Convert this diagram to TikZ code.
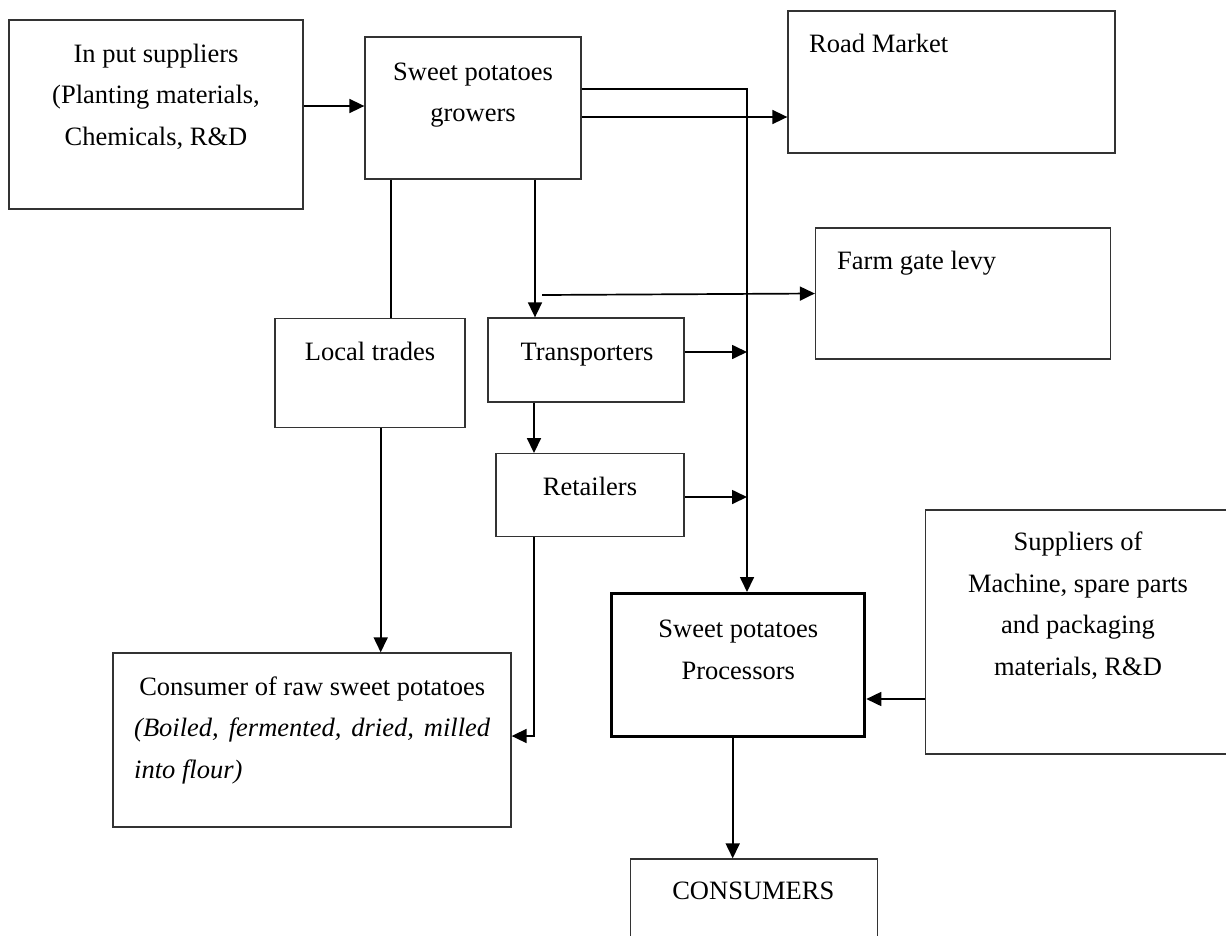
\documentclass[tikz,border=0pt]{standalone}
\usepackage{fontspec}
\setmainfont{Liberation Serif}
\usetikzlibrary{arrows.meta}
\begin{document}
\begin{tikzpicture}[x=1pt,y=-1pt,
  box/.style={draw=black!80, line width=1.3pt, inner sep=0pt, rectangle},
  heavybox/.style={box, draw=black, line width=3pt},
  txt/.style={inner sep=0pt, font=\fontsize{26.5}{41.5}\selectfont, align=center},
  link/.style={line width=1.7pt, black},
  arr/.style={link, -{Triangle[length=15pt,width=14pt]}}]

\useasboundingbox[fill=white] (0,0) rectangle (1226,935);

% boxes
\node[box, minimum width=294pt, minimum height=189pt] (inp) at (156,114.5) {};
\node[box, minimum width=216pt, minimum height=142pt] (gro) at (473,108) {};
\node[box, minimum width=327pt, minimum height=142pt] (rm)  at (951.5,82) {};
\node[box, minimum width=295pt, minimum height=131pt] (fg)  at (963,293.5) {};
\node[box, minimum width=190pt, minimum height=109pt] (lt)  at (370,373) {};
\node[box, minimum width=196pt, minimum height=84pt]  (tr)  at (586,360) {};
\node[box, minimum width=188pt, minimum height=83pt]  (re)  at (590,495.2) {};
\node[box, minimum width=398pt, minimum height=174pt] (crs) at (312,740) {};
\node[heavybox, minimum width=253pt, minimum height=143pt] (pro) at (738.3,665) {};
\node[box, minimum width=305pt, minimum height=244pt] (sup) at (1078,632) {};
\node[box, minimum width=247pt, minimum height=82pt]  (con) at (754,900) {};

% texts
\node[txt, anchor=north] (inpT) at (156,33)
  {\strut In put suppliers\\(Planting materials,\\Chemicals, R\&D\strut};
\node[txt, anchor=north] (groT) at (473,51)
  {\strut Sweet potatoes\\growers\strut};
\node[txt, anchor=base west] (rmT) at (809,52.7) {Road Market};
\node[txt, anchor=base west] (fgT) at (837,269) {Farm gate levy};
\node[txt, anchor=base] (ltT) at (370,360.7) {Local trades};
\node[txt, anchor=base] (trT) at (587,360) {Transporters};
\node[txt, anchor=base] (reT) at (590,495) {Retailers};
\node[txt, anchor=north] (proT) at (738.3,608.7)
  {\strut Sweet potatoes\\Processors\strut};
\node[txt, anchor=north] (supT) at (1078,521.7)
  {\strut Suppliers of\\Machine, spare parts\\and packaging\\materials, R\&D\strut};
\node[txt, align=left, anchor=north west] (crsT) at (134,666)
  {\strut\makebox[356pt][c]{Consumer of raw sweet potatoes}\\
   \makebox[356pt][s]{\itshape (Boiled, fermented, dried, milled}\\
   {\itshape into flour)}\strut};
\node[txt, anchor=base] (conT) at (753.3,899) {CONSUMERS};

% connectors
\coordinate (bus) at (747,0);
\coordinate (fgstart) at (542,295);
\draw[arr] (inp.east |- 0,106) -- (gro.west |- 0,106);
\draw[arr] (gro.east |- 0,89) -| (bus |- pro.north);
\draw[arr] (gro.east |- 0,117) -- (rm.west |- 0,117);
\draw[link] (gro.south -| 391,0) -- (lt.north -| 391,0);
\draw[arr] (gro.south -| 535,0) -- (tr.north -| 535,0);
\draw[arr] (fgstart) -- (fg.west);
\draw[arr] (tr.east |- 0,352) -- (bus |- 0,352);
\draw[arr] (tr.south -| 534,0) -- (re.north -| 534,0);
\draw[arr] (re.east |- 0,497) -- (bus |- 0,497);
\draw[arr] (lt.south -| 380.7,0) -- (crs.north -| 380.7,0);
\draw[arr] (re.south -| 534,0) |- (crs.east |- 0,736);
\draw[arr] (sup.west |- 0,699) -- (pro.east |- 0,699);
\draw[arr] (pro.south -| 732.7,0) -- (con.north -| 732.7,0);
\end{tikzpicture}
\end{document}
